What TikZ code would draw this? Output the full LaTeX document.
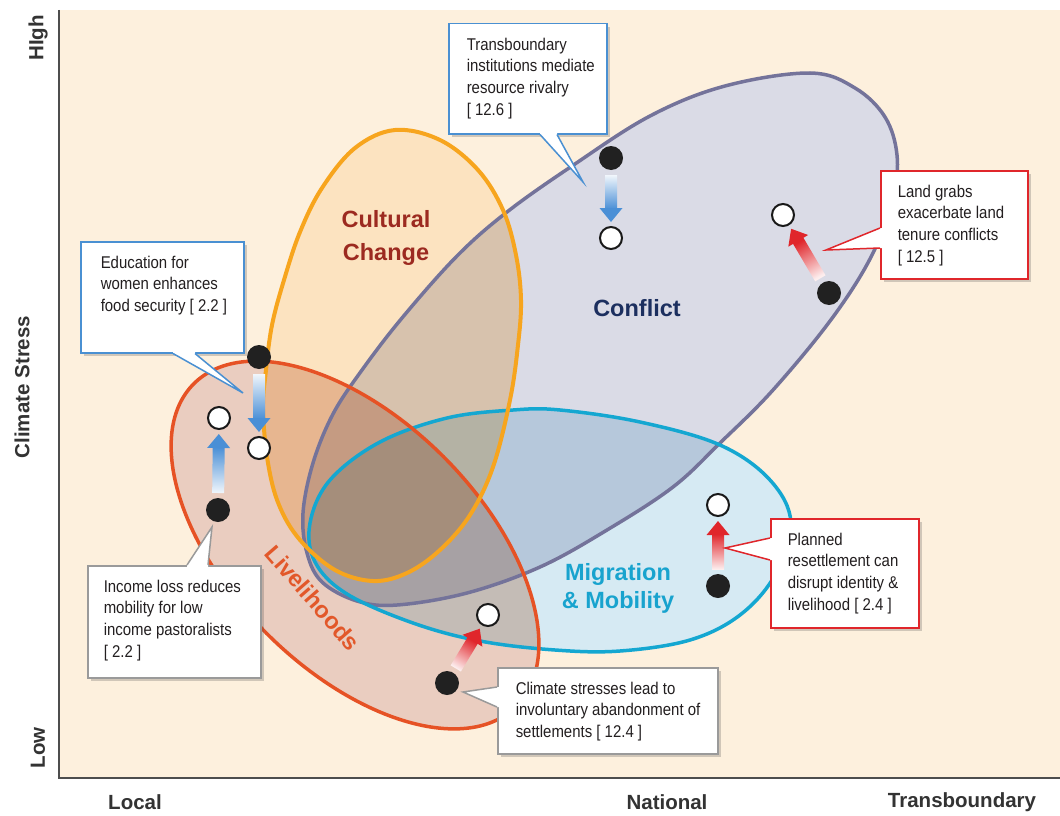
\documentclass[tikz,border=0pt]{standalone}
\usepackage{fontspec}
\setmainfont{Liberation Sans}
\newfontfamily\narrowfont[FakeStretch=0.88]{Liberation Sans}
\usetikzlibrary{calc,shadows}

\definecolor{bgcream}{HTML}{FDF0DD}
\definecolor{axisgrey}{HTML}{4D4D4D}
\definecolor{labgrey}{HTML}{333333}
\definecolor{confline}{HTML}{74739A}
\definecolor{conffill}{HTML}{DADBE6}
\definecolor{cultline}{HTML}{F7A51E}
\definecolor{cultfill}{HTML}{FCE3C0}
\definecolor{livline}{HTML}{E65225}
\definecolor{livfill}{HTML}{EACDC0}
\definecolor{migline}{HTML}{14A7D1}
\definecolor{migfill}{HTML}{D6EAF3}
\definecolor{cultlab}{HTML}{9C2A20}
\definecolor{conflab}{HTML}{1C2F5F}
\definecolor{miglab}{HTML}{18A3CE}
\definecolor{livlab}{HTML}{E2582A}
\definecolor{arrblue}{HTML}{4A8FD6}
\definecolor{arrred}{HTML}{E0262B}
\definecolor{boxblue}{HTML}{4A90D2}
\definecolor{boxred}{HTML}{E0262B}
\definecolor{boxgrey}{HTML}{9A9A9A}
\definecolor{txtgrey}{HTML}{231F20}

\newcommand\cbody[3]{\parbox[c][#2pt][t]{#1pt}{\narrowfont\fontsize{17}{21.8}\selectfont\color{txtgrey}\begin{tabular}{@{}l@{}}#3\end{tabular}}}

\newcommand\gradarrow[3]{%
  \pgfmathanglebetweenpoints{\pgfpointanchor{#1}{center}}{\pgfpointanchor{#2}{center}}%
  \pgfmathsetmacro\gashade{\pgfmathresult+90}%
  \coordinate (ga-t) at ($(#1.center)!17pt!(#2.center)$);
  \coordinate (ga-h) at ($(#2.center)!16pt!(#1.center)$);
  \coordinate (ga-b) at ($(ga-h)!14pt!(ga-t)$);
  \coordinate (ga-s) at ($(ga-h)!13pt!(ga-t)$);
  \shade[top color=#3!8, bottom color=#3, shading angle=\gashade]
    ($(ga-t)!6pt!90:(ga-h)$) -- ($(ga-s)!6pt!-90:(ga-t)$) --
    ($(ga-s)!6pt!90:(ga-t)$) -- ($(ga-t)!6pt!-90:(ga-h)$) -- cycle;
  \fill[#3] ($(ga-b)!11.5pt!90:(ga-h)$) -- (ga-h) -- ($(ga-b)!11.5pt!-90:(ga-h)$) -- cycle;
}

\newcommand\cptr[5]{%
  \fill[white] (#2) -- (#3) -- (#4) -- ($(#4)+#5$) -- ($(#2)+#5$) -- cycle;
  \draw[#1, line width=1.5pt, line join=miter] (#2) -- (#3) -- (#4);
}

\def\conflictshape{plot[smooth cycle, tension=0.6] coordinates {(303,513) (313,463) (333,414) (362,370) (402,318) (457,256) (507,212) (572,166) (650,116) (725,86) (810,73) (855,88) (885,117) (897,155) (893,195) (873,253) (833,317) (773,390) (720,443) (673,487) (607,530) (540,567) (467,593) (397,605) (357,601) (322,582) (307,553)}}
\def\cultshape{plot[smooth cycle, tension=0.6] coordinates {(395,130) (440,140) (478,170) (503,210) (516,255) (521,300) (518,345) (510,400) (493,467) (470,515) (440,550) (407,573) (373,581) (335,570) (300,540) (279,505) (268,463) (263,410) (266,370) (272,325) (284,280) (300,232) (322,188) (355,148)}}
\def\livshape{[rotate around={-45:(355,545)}] (355,545) ellipse [x radius=228, y radius=125]}
\def\migshape{plot[smooth cycle, tension=0.6] coordinates {(310,523) (330,480) (380,442) (447,418) (513,410) (560,410) (640,422) (720,445) (770,480) (791,523) (775,575) (740,615) (690,640) (620,651) (555,650) (480,641) (413,623) (347,594) (315,562)}}

\begin{document}
\begin{tikzpicture}[x=1pt, y=-1pt,
  bdot/.style={circle, fill=black!87, minimum size=24pt, inner sep=0pt},
  wdot/.style={circle, draw=black!90, line width=2pt, fill=white, minimum size=22pt, inner sep=0pt},
  axlab/.style={font=\bfseries\fontsize{20.5}{24}\selectfont, text=labgrey, inner sep=0pt},
  elab/.style={font=\bfseries\fontsize{23.5}{33}\selectfont, inner sep=0pt, align=center},
  cbx/.style={draw=#1, line width=1.5pt, fill=white, rectangle, anchor=north west, inner ysep=11pt,
    drop shadow={shadow xshift=3pt, shadow yshift=-3pt, opacity=0.25, fill=black!70}},
  ellline/.style={line width=3.5pt}
]
\useasboundingbox (0,0) rectangle (1060,816);
\fill[white] (0,0) rectangle (1060,816);
\fill[bgcream] (59,10) rectangle (1060,778);
\coordinate (axtop) at (59,10);
\coordinate (axorig) at (59,778);
\coordinate (axright) at (1060,778);
\draw[axisgrey, line width=2pt] (axtop) -- (axorig) -- (axright);

% axis labels
\node[axlab, rotate=90] (high) at (38,38) {HIgh};
\node[axlab, rotate=90] (cstress) at (22,387) {Climate Stress};
\node[axlab, rotate=90] (low) at (38,748) {Low};
\node[axlab] (local) at (135,802) {Local};
\node[axlab] (national) at (667,802) {National};
\node[axlab] (transb) at (962,802) {Transboundary};

% ellipses: white underlay, multiply fills, outlines
\fill[white] \conflictshape;
\fill[white] \cultshape;
\fill[white] \livshape;
\fill[white] \migshape;
\begin{scope}[blend mode=multiply]
  \fill[conffill] \conflictshape;
  \fill[cultfill] \cultshape;
  \fill[livfill] \livshape;
  \fill[migfill] \migshape;
\end{scope}
\draw[confline, ellline] \conflictshape;
\draw[migline, ellline] \migshape;
\draw[livline, ellline] \livshape;
\draw[cultline, line width=4pt] \cultshape;

% ellipse labels
\node[elab, text=cultlab] (cult) at (386,238) {Cultural\\Change};
\node[elab, text=conflab] (conf) at (637,308) {Conflict};
\node[elab, text=miglab, font=\bfseries\fontsize{23.5}{28}\selectfont] (mig) at (618,588) {Migration\\\& Mobility};
\node[elab, text=livlab, rotate=-49] (liv) at (313,598) {Livelihoods};

% dots
\node[bdot] (b1) at (259,357) {};
\node[wdot] (w1) at (259,448) {};
\node[bdot] (b2) at (218,510) {};
\node[wdot] (w2) at (219,418) {};
\node[bdot] (b3) at (611,158) {};
\node[wdot] (w3) at (611,238) {};
\node[bdot] (b4) at (829,293) {};
\node[wdot] (w4) at (783,215) {};
\node[bdot] (b5) at (718,586) {};
\node[wdot] (w5) at (718,505) {};
\node[bdot] (b6) at (447,683) {};
\node[wdot] (w6) at (488,615) {};

% arrows
\gradarrow{b1}{w1}{arrblue}
\gradarrow{b2}{w2}{arrblue}
\gradarrow{b3}{w3}{arrblue}
\gradarrow{b4}{w4}{arrred}
\gradarrow{b5}{w5}{arrred}
\gradarrow{b6}{w6}{arrred}

% callouts
\node[cbx=boxblue, inner xsep=18pt] (c1) at (448,23) {\cbody{122}{88}{Transboundary\\institutions mediate\\resource rivalry\\{}[ 12.6 ]}};
\node[cbx=boxblue, inner xsep=20pt] (c2) at (80,241) {\cbody{123}{89}{Education for\\women enhances\\food security [ 2.2 ]}};
\node[cbx=boxred, inner xsep=17pt] (c3) at (880,170) {\cbody{113}{86}{Land grabs\\exacerbate land\\tenure conflicts\\{}[ 12.5 ]}};
\node[cbx=boxgrey, inner xsep=16pt] (c4) at (87,565) {\cbody{141}{90}{Income loss reduces\\mobility for low\\income pastoralists\\{}[ 2.2 ]}};
\node[cbx=boxgrey, inner xsep=18pt] (c5) at (497,667) {\cbody{184}{64}{Climate stresses lead to\\involuntary abandonment of\\settlements [ 12.4 ]}};
\node[cbx=boxred, inner xsep=17pt] (c6) at (770,518) {\cbody{114}{87}{Planned\\resettlement can\\disrupt identity \&\\livelihood [ 2.4 ]}};

% callout pointers
\coordinate (p1a) at ($(c1.south west)+(92,0)$);
\coordinate (p1b) at ($(c1.south west)+(109,0)$);
\coordinate (p1t) at (583,182);
\cptr{boxblue}{p1a}{p1t}{p1b}{(0,-2)}
\coordinate (p2a) at ($(c2.south west)+(93,0)$);
\coordinate (p2b) at ($(c2.south west)+(115,0)$);
\coordinate (p2t) at (243,393);
\cptr{boxblue}{p2a}{p2t}{p2b}{(0,-2)}
\coordinate (p3a) at ($(c3.north west)+(0,58)$);
\coordinate (p3b) at ($(c3.north west)+(0,78)$);
\coordinate (p3t) at (826,250);
\cptr{boxred}{p3a}{p3t}{p3b}{(2,0)}
\coordinate (p4a) at ($(c4.north west)+(100,0)$);
\coordinate (p4b) at ($(c4.north west)+(121,0)$);
\coordinate (p4t) at (212,527);
\cptr{boxgrey}{p4a}{p4t}{p4b}{(0,2)}
\coordinate (p5a) at ($(c5.north west)+(0,20)$);
\coordinate (p5b) at ($(c5.north west)+(0,40)$);
\coordinate (p5t) at (463,692);
\cptr{boxgrey}{p5a}{p5t}{p5b}{(2,0)}
\coordinate (p6a) at ($(c6.north west)+(0,20)$);
\coordinate (p6b) at ($(c6.north west)+(0,42)$);
\coordinate (p6t) at (725,548);
\cptr{boxred}{p6a}{p6t}{p6b}{(2,0)}
\end{tikzpicture}
\end{document}
